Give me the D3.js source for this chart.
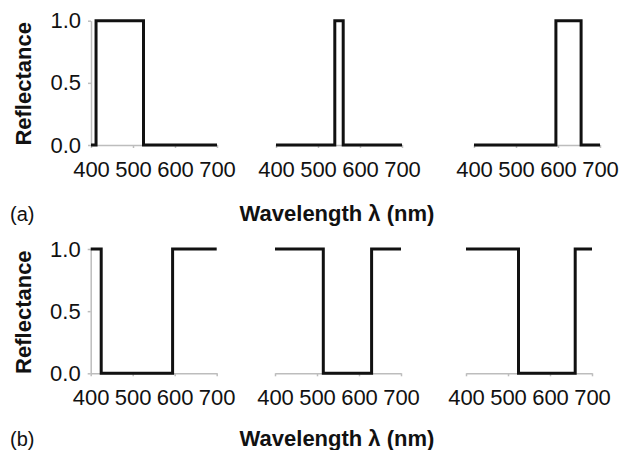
<!DOCTYPE html>
<html>
<head>
<meta charset="utf-8">
<script src="https://cdn.jsdelivr.net/npm/d3@7"></script>
<style>
  body { margin: 0; background: #fff; }
  svg { display: block; }
  text { font-family: "Liberation Sans", Arial, sans-serif; fill: #111; }
</style>
</head>
<body>
<div id="chart"></div>
<script>
// tick labels
const xTicks = [400, 500, 600, 700];
const yTicks = [0, 0.5, 1.0];

// (a) band-pass spectra: wavelength (nm) and reflectance at each corner
const wlA1 = [400, 412, 412, 525, 525, 700];
const rA1  = [0, 0, 1, 1, 0, 0];
const wlA2 = [400, 540, 540, 560, 560, 700];
const rA2  = [0, 0, 1, 1, 0, 0];
const wlA3 = [400, 595, 595, 655, 655, 700];
const rA3  = [0, 0, 1, 1, 0, 0];

// (b) band-stop spectra
const wlB1 = [400, 425, 425, 595, 595, 700];
const rB1  = [1, 1, 0, 0, 1, 1];
const wlB2 = [400, 515, 515, 630, 630, 700];
const rB2  = [1, 1, 0, 0, 1, 1];
const wlB3 = [400, 525, 525, 660, 660, 700];
const rB3  = [1, 1, 0, 0, 1, 1];

const yLabel = "Reflectance";
const xLabel = "Wavelength \u03bb (nm)";

const width = 619;
const height = 450;
const plotW = 126;
const plotH = 124.3;

const panels = [
  { wl: wlA1, r: rA1, left: 91,  top: 20.7, yAxis: true },
  { wl: wlA2, r: rA2, left: 276, top: 20.7, yAxis: false },
  { wl: wlA3, r: rA3, left: 474, top: 20.7, yAxis: false },
  { wl: wlB1, r: rB1, left: 90.7, top: 249, yAxis: true },
  { wl: wlB2, r: rB2, left: 275, top: 249, yAxis: false },
  { wl: wlB3, r: rB3, left: 466, top: 249, yAxis: false }
];

const svg = d3.select("#chart")
  .append("svg")
  .attr("width", width)
  .attr("height", height);

const xScale = d3.scaleLinear().domain([400, 700]).range([0, plotW]);
const yScale = d3.scaleLinear().domain([0, 1]).range([plotH, 0]);

const line = d3.line()
  .x(d => xScale(d[0]))
  .y(d => yScale(d[1]));

panels.forEach(p => {
  const g = svg.append("g")
    .attr("transform", `translate(${p.left}, ${p.top})`);

  const xAxis = d3.axisBottom(xScale)
    .tickValues(xTicks)
    .tickSize(3)
    .tickSizeOuter(0)
    .tickPadding(13)
    .tickFormat(d3.format("d"));

  g.append("g")
    .attr("class", "x-axis")
    .attr("transform", `translate(0, ${plotH})`)
    .call(xAxis);

  if (p.yAxis) {
    const yAxis = d3.axisLeft(yScale)
      .tickValues(yTicks)
      .tickSize(3)
      .tickSizeOuter(0)
      .tickPadding(7)
      .tickFormat(d3.format(".1f"));

    g.append("g")
      .attr("class", "y-axis")
      .call(yAxis);

    g.append("text")
      .attr("transform", "rotate(-90)")
      .attr("x", -plotH / 2 - 1)
      .attr("y", 31 - p.left)
      .style("text-anchor", "middle")
      .style("font-weight", "bold")
      .style("font-size", "22px")
      .text(yLabel);
  }

  g.selectAll(".domain, .tick line")
    .attr("stroke", "#bdbdbd")
    .attr("stroke-width", 1.5);
  g.selectAll(".tick text")
    .style("font-size", "22px")
    .attr("fill", "#111");

  g.append("path")
    .datum(d3.zip(p.wl, p.r))
    .attr("fill", "none")
    .attr("stroke", "#111")
    .attr("stroke-width", 3)
    .attr("stroke-linejoin", "miter")
    .attr("d", line);
});

// panel captions and shared x-axis titles
[["(a)", 221], ["(b)", 446]].forEach(([tag, y]) => {
  svg.append("text")
    .attr("x", 10)
    .attr("y", y)
    .style("font-size", "20px")
    .text(tag);

  svg.append("text")
    .attr("x", 337)
    .attr("y", y)
    .style("text-anchor", "middle")
    .style("font-weight", "bold")
    .style("font-size", "22px")
    .text(xLabel);
});
</script>
</body>
</html>
